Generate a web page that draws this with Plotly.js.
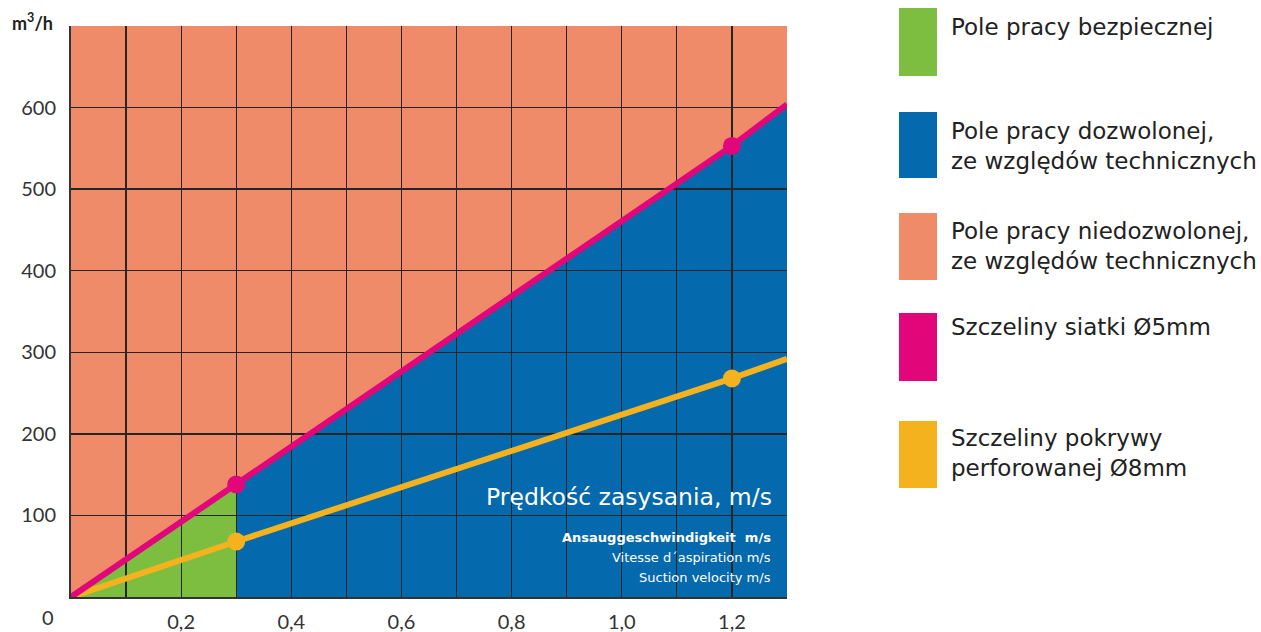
<!DOCTYPE html>
<html><head><meta charset="utf-8">
<script src="https://cdn.plot.ly/plotly-3.0.1.min.js"></script>
<style>html,body{margin:0;padding:0;background:#fff}#c{width:1261px;height:632px}</style>
</head><body><div id="c"></div>
<script>
// ---- data ----
const speed = [0, 0.3, 1.2, 1.3];           // m/s
const siatkaFlow = [0, 138, 553, 604];      // m3/h, Szczeliny siatki Ø5mm
const pokrywaFlow = [0, 68, 268, 292];      // m3/h, Szczeliny pokrywy perforowanej Ø8mm
const markerSizes = [0, 18, 18, 0];
const safeLimit = 0.3;                      // end of safe working field (m/s)
const xTickVals = [0.2, 0.4, 0.6, 0.8, 1.0, 1.2];
const xTickText = ['0,2', '0,4', '0,6', '0,8', '1,0', '1,2'];
const yTickVals = [100, 200, 300, 400, 500, 600];
const yTickText = ['100', '200', '300', '400', '500', '600'];
const legendLabels = [
  'Pole pracy bezpiecznej',
  'Pole pracy dozwolonej,<br>ze względów technicznych',
  'Pole pracy niedozwolonej,<br>ze względów technicznych',
  'Szczeliny siatki Ø5mm',
  'Szczeliny pokrywy<br>perforowanej Ø8mm'
];

const C = {orange:'#F08B69', blue:'#0569AD', green:'#7DBE41', magenta:'#E1077A', yellow:'#F4B21F', grid:'#262626'};
const W = 1261, H = 632;
const px = v => v / W, py = v => (H - v) / H;

// ---- region paths built from data ----
const iSafe = speed.indexOf(safeLimit);
function pathFrom(xs, ys) {
  return xs.map((x, i) => (i ? 'L' : 'M') + x + ',' + ys[i]).join(' ') + ' Z';
}
const greenX = speed.slice(0, iSafe + 1).concat([safeLimit]);
const greenY = siatkaFlow.slice(0, iSafe + 1).concat([0]);
const blueX = [safeLimit].concat(speed.slice(iSafe), [speed[speed.length - 1]]);
const blueY = [0].concat(siatkaFlow.slice(iSafe), [0]);

const shapes = [
  {type:'path', xref:'x', yref:'y', path: pathFrom(greenX, greenY), fillcolor:C.green, line:{width:0}, layer:'below'},
  {type:'path', xref:'x', yref:'y', path: pathFrom(blueX, blueY), fillcolor:C.blue, line:{width:0}, layer:'below'}
];
// legend swatches
const swatchColors = [C.green, C.blue, C.orange, C.magenta, C.yellow];
const swatchTop = [8, 112, 213, 313, 421];
const swatchBot = [76, 178, 280, 381, 488];
const textY = [27, 146, 246, 327, 453];
const annotations = [];
swatchColors.forEach((col, i) => {
  shapes.push({type:'rect', xref:'paper', yref:'paper', x0:px(899), x1:px(937), y0:py(swatchBot[i]), y1:py(swatchTop[i]), fillcolor:col, line:{width:0}});
  annotations.push({xref:'paper', yref:'paper', x:px(949), y:py(textY[i]), xanchor:'left', yanchor:'middle', align:'left', showarrow:false,
    text: legendLabels[i], font:{family:'DejaVu Sans, Verdana, sans-serif', size:23, color:'#222'}});
});
const ann = (x, y, text, font, xa) => ({xref:'paper', yref:'paper', x:px(x), y:py(y), xanchor:xa || 'center', yanchor:'middle', showarrow:false, text, font});
annotations.push(
  ann(32, 22, '<b>m<sup>3</sup>/h</b>', {family:'Lato, sans-serif', size:18, color:'#222'}),
  ann(48, 617, '0', {family:'Lato, sans-serif', size:20, color:'#333'}),
  ann(774, 497, 'Prędkość zasysania, m/s', {family:'DejaVu Sans, Verdana, sans-serif', size:23.5, color:'#fff'}, 'right'),
  ann(773, 537, '<b>Ansauggeschwindigkeit  m/s</b>', {family:'DejaVu Sans, sans-serif', size:13, color:'#fff'}, 'right'),
  ann(773, 557, 'Vitesse d´aspiration m/s', {family:'DejaVu Sans, sans-serif', size:13, color:'#fff'}, 'right'),
  ann(773, 577, 'Suction velocity m/s', {family:'DejaVu Sans, sans-serif', size:13, color:'#fff'}, 'right')
);

const traces = [
  {x: speed, y: pokrywaFlow, mode:'lines+markers', opacity:1, line:{color:C.yellow, width:6}, marker:{color:C.yellow, opacity:1, size:markerSizes, line:{width:0}}, hoverinfo:'skip'},
  {x: speed, y: siatkaFlow, mode:'lines+markers', opacity:1, line:{color:C.magenta, width:6}, marker:{color:C.magenta, opacity:1, size:markerSizes, line:{width:0}}, hoverinfo:'skip'}
];

const layout = {
  width: W, height: H, margin:{l:0, r:0, t:0, b:0},
  paper_bgcolor:'#fff', plot_bgcolor:C.orange, showlegend:false,
  xaxis:{domain:[px(71), px(787)], range:[0, 1.3], showgrid:true, gridcolor:C.grid, gridwidth:1.3,
    tickmode:'array', tickvals:xTickVals, ticktext:xTickText, ticks:'', ticklabelstandoff:6,
    tickfont:{family:'Lato, sans-serif', size:20, color:'#333'}, showline:true, linecolor:'#333', linewidth:2, zeroline:false,
    minor:{dtick:0.1, tick0:0, showgrid:true, gridcolor:C.grid, gridwidth:1.3, ticks:''}},
  yaxis:{domain:[py(597), py(26)], range:[0, 700], showgrid:true, gridcolor:C.grid, gridwidth:1.3,
    tickmode:'array', tickvals:yTickVals.concat([700]), ticktext:yTickText.concat(['']), ticks:'', ticklabelstandoff:9,
    tickfont:{family:'Lato, sans-serif', size:20, color:'#333'}, showline:true, linecolor:'#333', linewidth:2, zeroline:false},
  shapes: shapes, annotations: annotations
};
Plotly.newPlot('c', traces, layout, {staticPlot:true});
</script></body></html>
